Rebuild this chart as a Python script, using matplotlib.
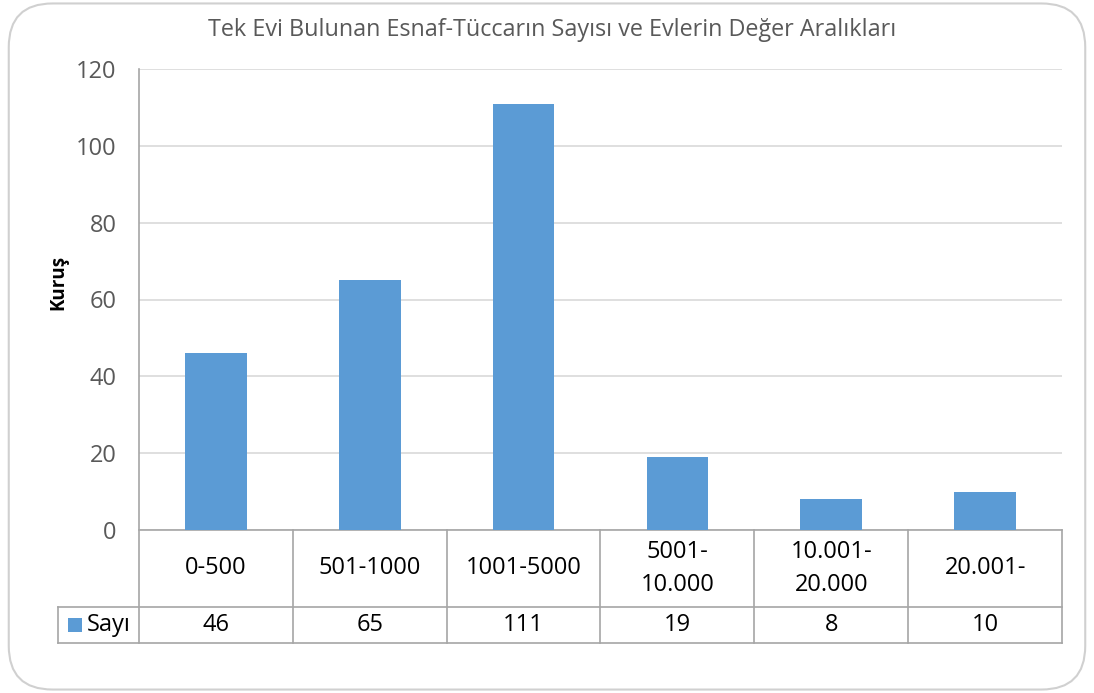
import matplotlib.pyplot as plt
import matplotlib.transforms as mtransforms
from matplotlib.patches import FancyBboxPatch, Rectangle

# data
categories = ["0-500", "501-1000", "1001-5000", "5001-\n10.000", "10.001-\n20.000", "20.001-"]
values = [46, 65, 111, 19, 8, 10]
series_name = "Sayı"
title = "Tek Evi Bulunan Esnaf-Tüccarın Sayısı ve Evlerin Değer Aralıkları"
y_label = "Kuruş"
y_ticks = [0, 20, 40, 60, 80, 100, 120]

bar_color = "#5B9BD5"
grid_color = "#D9D9D9"
line_color = "#A6A6A6"
text_gray = "#595959"
fs = 17

plt.rcParams["font.family"] = ["Open Sans", "DejaVu Sans"]

fig = plt.figure(figsize=(10.94, 6.93), dpi=100)

# rounded chart border, behind everything
border = FancyBboxPatch((0.008, 0.005), 0.984, 0.99,
                        boxstyle="round,pad=0,rounding_size=0.04",
                        transform=fig.transFigure, facecolor="white",
                        edgecolor="#D0D0D0", linewidth=1.5,
                        mutation_aspect=1.58, zorder=-10)
fig.patches.append(border)

ax = fig.add_axes([139 / 1094, 1 - 530 / 693, 923 / 1094, 461 / 693])
ax.set_facecolor("none")

x = list(range(len(values)))
ax.bar(x, values, width=0.4, color=bar_color, zorder=3)

ax.set_xlim(-0.5, len(values) - 0.5)
ax.set_ylim(0, 120)
ax.set_yticks(y_ticks)
ax.set_xticks([])
ax.tick_params(axis="y", length=0, pad=16, labelsize=fs, labelcolor=text_gray)
ax.yaxis.grid(True, color=grid_color, linewidth=1.2)
ax.set_axisbelow(True)
for side in ["top", "right", "left"]:
    ax.spines[side].set_visible(False)
ax.spines["bottom"].set_color(line_color)
ax.spines["bottom"].set_linewidth(1.2)

fig.text(552 / 1094, 1 - 30 / 693, title, ha="center", va="center",
         fontsize=16.8, color=text_gray)
fig.text(58 / 1094, 1 - 282 / 693, y_label, ha="center", va="center",
         rotation=90, fontsize=13.5, fontweight="bold")

# data table below the axis
trans = mtransforms.blended_transform_factory(ax.transData, ax.transAxes)
px = 923 / len(values)
left_x = -0.5 - (139 - 58) / px
row1 = -(607 - 530) / 461
row2 = -(643 - 530) / 461
kw = dict(color=line_color, linewidth=1.2, transform=trans, clip_on=False)

# y-axis line extends through the table
ax.plot([-0.5, -0.5], [1, row2], **kw)
for i in range(len(values)):
    ax.plot([i + 0.5, i + 0.5], [0, row2], **kw)
ax.plot([left_x, len(values) - 0.5], [row1, row1], **kw)
ax.plot([left_x, len(values) - 0.5], [row2, row2], **kw)
ax.plot([left_x, left_x], [row1, row2], **kw)

for i, (c, v) in enumerate(zip(categories, values)):
    ax.text(i, row1 / 2, c, ha="center", va="center", fontsize=fs,
            linespacing=1.45, transform=trans, clip_on=False)
    ax.text(i, (row1 + row2) / 2, str(v), ha="center", va="center",
            fontsize=fs, transform=trans, clip_on=False)

# legend key in the table
key_w = 14 / px
key_h = 14 / 461
ax.add_patch(Rectangle((left_x + 10 / px, (row1 + row2) / 2 - key_h / 2), key_w, key_h,
                       facecolor=bar_color, edgecolor="none", transform=trans,
                       clip_on=False))
ax.text(left_x + 29 / px, (row1 + row2) / 2, series_name, ha="left", va="center",
        fontsize=fs, transform=trans, clip_on=False)

fig.savefig("out.png", dpi=100)
